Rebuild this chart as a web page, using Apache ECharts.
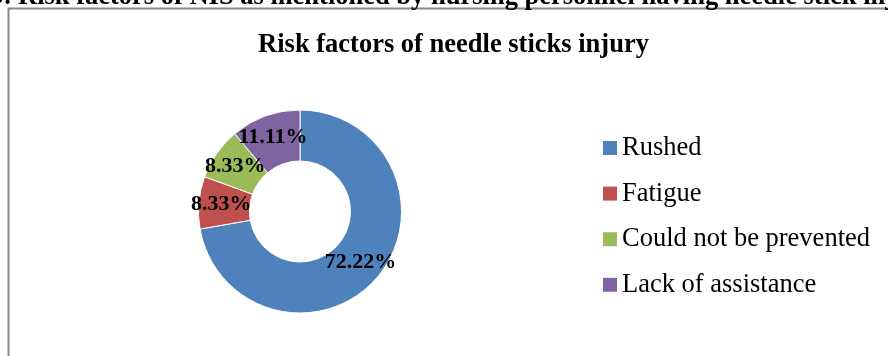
<!DOCTYPE html>
<html>
<head>
<meta charset="utf-8">
<script src="https://cdn.jsdelivr.net/npm/echarts@6/dist/echarts.min.js"></script>
<style>
html,body{margin:0;padding:0;background:#fff;}
#chart{width:888px;height:356px;}
</style>
</head>
<body>
<div id="chart"></div>
<script>
var categories = ['Rushed', 'Fatigue', 'Could not be prevented', 'Lack of assistance'];
var values = [72.22, 8.33, 8.33, 11.11];
var valueLabels = ['72.22%', '8.33%', '8.33%', '11.11%'];
var colors = ['#4F81BD', '#C0504D', '#9BBB59', '#8064A2'];
var chartTitle = 'Risk factors of needle sticks injury';
var captionPrefix = 'Figure 3:';
var captionText = 'Risk factors of NIS as mentioned by nursing personnel having needle stick injury';

var FONT = "'Liberation Serif', 'Times New Roman', serif";
var chart = echarts.init(document.getElementById('chart'), null, {renderer: 'canvas'});

var data = categories.map(function (c, i) {
  return {name: c, value: values[i], itemStyle: {color: colors[i]}};
});

chart.setOption({
  animation: false,
  backgroundColor: '#ffffff',
  legend: {
    orient: 'vertical',
    left: 603,
    top: 133,
    padding: 0,
    itemWidth: 14,
    itemHeight: 14,
    itemGap: 15.6,
    icon: 'rect',
    selectedMode: false,
    data: categories,
    itemStyle: {borderWidth: 0},
    textStyle: {fontFamily: FONT, fontSize: 26.5, color: '#000', lineHeight: 30}
  },
  graphic: [
    {type: 'rect', shape: {x: 8.5, y: 8.5, width: 960, height: 400},
     style: {fill: null, stroke: '#8a8a8a', lineWidth: 2}, z: 0},
    {type: 'text', x: 453.5, y: 45.5,
     style: {text: chartTitle, fontFamily: FONT, fontSize: 26.5, fontWeight: 'bold', fill: '#000',
             textAlign: 'center', textVerticalAlign: 'middle'}},
    {type: 'text', x: 18, y: -3,
     style: {text: captionText, fontFamily: FONT, fontSize: 26.5, fontWeight: 'bold', fill: '#000',
             textAlign: 'left', textVerticalAlign: 'middle'}},
    {type: 'text', x: 12, y: -3,
     style: {text: captionPrefix, fontFamily: FONT, fontSize: 26.5, fontWeight: 'bold', fill: '#000',
             textAlign: 'right', textVerticalAlign: 'middle'}}
  ],
  series: [{
    type: 'pie',
    center: [300, 211.5],
    radius: [50.5, 101.5],
    startAngle: 90,
    clockwise: true,
    avoidLabelOverlap: false,
    silent: true,
    itemStyle: {borderColor: '#ffffff', borderWidth: 1},
    label: {
      show: true,
      position: 'inside',
      formatter: function (p) { return valueLabels[p.dataIndex]; },
      fontFamily: FONT,
      fontSize: 22,
      fontWeight: 'bold',
      color: '#000'
    },
    labelLine: {show: false},
    data: data
  }]
});
</script>
</body>
</html>
